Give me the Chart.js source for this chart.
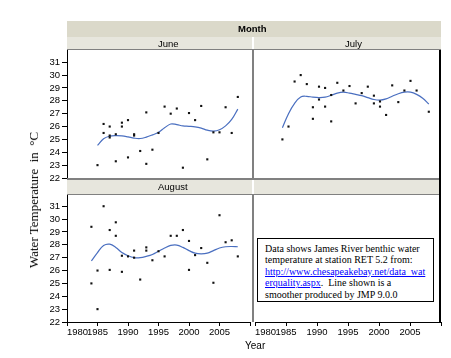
<!DOCTYPE html>
<html>
<head>
<meta charset="utf-8">
<script src="https://cdn.jsdelivr.net/npm/chart.js@4/dist/chart.umd.min.js"></script>
<style>
  html, body { margin: 0; padding: 0; background: #fff; }
  #wrap { position: relative; width: 451px; height: 358px; overflow: hidden; font-family: "Liberation Sans", Arial, sans-serif; }
  canvas { position: absolute; }
  .band { position: absolute; background: #dbd9ca; }
  .strip { position: absolute; background: #e7e6dd; }
  .lbl { position: absolute; font-size: 9.5px; color: #000; white-space: nowrap; line-height: 1; }
  .line { position: absolute; }
  #ytitle { position: absolute; left: 34px; top: 200px; transform: translate(-50%, -50%) rotate(-90deg);
    font-family: "Liberation Serif", "Times New Roman", serif; font-size: 13px; white-space: pre; }
  #note { position: absolute; left: 257px; top: 238px; width: 177px; height: 64px; border: 1px solid #000;
    box-sizing: border-box; background: #fff; padding: 4px 0 0 7px;
    font-family: "Liberation Serif", "Times New Roman", serif; font-size: 10px; line-height: 11.4px; white-space: nowrap; }
  #note a { color: #0000ff; text-decoration: underline; }
</style>
</head>
<body>
<div id="wrap">
  <canvas id="june" width="254" height="150" style="left:0;top:40px"></canvas>
  <canvas id="july" width="197" height="150" style="left:254px;top:40px"></canvas>
  <canvas id="august" width="254" height="174" style="left:0;top:184px"></canvas>
  <canvas id="blank" width="197" height="174" style="left:254px;top:184px"></canvas>

  <div class="band" style="left:67px;top:21px;width:374px;height:16px"></div>
  <div class="lbl" style="left:238px;top:24px;font-weight:bold">Month</div>
  <div class="strip" style="left:67px;top:37px;width:185px;height:13px"></div>
  <div class="strip" style="left:254px;top:37px;width:187px;height:13px"></div>
  <div class="lbl" style="left:158px;top:39px">June</div>
  <div class="lbl" style="left:345px;top:39px">July</div>
  <div class="strip" style="left:67px;top:180px;width:185px;height:14px"></div>
  <div class="strip" style="left:254px;top:180px;width:187px;height:14px"></div>
  <div class="lbl" style="left:158px;top:182px">August</div>

  <!-- panel frame -->
  <div class="line" style="left:67px;top:49px;width:374px;height:1px;background:#808080"></div>
  <div class="line" style="left:67px;top:178px;width:374px;height:2px;background:#808080"></div>
  <div class="line" style="left:67px;top:194px;width:374px;height:1px;background:#808080"></div>
  <div class="line" style="left:252px;top:50px;width:2px;height:128px;background:#808080"></div>
  <div class="line" style="left:252px;top:194px;width:2px;height:128px;background:#808080"></div>
  <div class="line" style="left:439px;top:50px;width:2px;height:273px;background:#000"></div>

  <div id="ytitle">Water Temperature  in  °C</div>
  <div class="lbl" style="left:245px;top:341px;font-size:10px">Year</div>

  <div id="note">Data shows James River benthic water<br>temperature at station RET 5.2 from:<br><a href="#">http://www.chesapeakebay.net/data_wat<br>erquality.aspx</a>.&nbsp; Line shown is a<br>smoother produced by JMP 9.0.0</div>
</div>

<script>
  // yearly benthic temperatures
  const juneYears = [1985, 1986, 1986, 1987, 1987, 1987, 1988, 1988, 1989, 1989, 1990, 1990, 1991, 1991, 1992, 1993,
    1993, 1994, 1995, 1996, 1997, 1998, 1999, 2000, 2001, 2002, 2003, 2004, 2005, 2006, 2007, 2008];
  const juneTemps = [23.0, 26.2, 25.5, 26.0, 25.3, 25.15, 23.3, 25.4, 26.3, 26.0, 26.5, 23.6, 25.4, 25.3, 24.1, 27.1,
    23.1, 24.2, 25.5, 27.55, 27.0, 27.4, 22.8, 27.05, 26.5, 27.6, 23.45, 25.55, 25.55, 27.5, 25.5, 28.3];

  const julyYears = [1984, 1985, 1986, 1987, 1988, 1989, 1989, 1990, 1990, 1991, 1991, 1992, 1992, 1993, 1994, 1995,
    1996, 1997, 1998, 1999, 1999, 2000, 2000, 2001, 2002, 2003, 2004, 2005, 2006, 2008];
  const julyTemps = [25.0, 26.0, 29.5, 30.0, 29.3, 27.5, 26.6, 29.1, 28.1, 29.0, 27.55, 28.45, 26.4, 29.4, 28.8, 29.15,
    27.8, 28.6, 29.1, 28.4, 27.8, 27.95, 27.55, 26.9, 29.2, 27.9, 28.8, 29.55, 28.8, 27.15];

  const augYears = [1984, 1984, 1985, 1985, 1986, 1987, 1987, 1988, 1988, 1989, 1989, 1990, 1991, 1991, 1992, 1993,
    1993, 1994, 1995, 1996, 1997, 1998, 1999, 2000, 2000, 2001, 2002, 2003, 2004, 2005, 2006, 2007, 2008];
  const augTemps = [29.4, 25.0, 26.0, 23.0, 31.0, 29.15, 26.05, 29.75, 28.7, 27.15, 25.9, 27.1, 27.55, 27.0, 25.3, 27.8,
    27.55, 26.8, 27.5, 27.1, 28.7, 28.7, 29.15, 28.3, 26.05, 27.2, 27.75, 26.6, 25.05, 30.3, 28.2, 28.35, 27.1];

  // JMP smoother, sampled once a year
  const juneSmoothYears = [1985, 1986, 1987, 1988, 1989, 1990, 1991, 1992, 1993, 1994, 1995, 1996, 1997, 1998, 1999,
    2000, 2001, 2002, 2003, 2004, 2005, 2006, 2007, 2008];
  const juneSmooth = [24.53, 25.05, 25.25, 25.3, 25.28, 25.2, 25.1, 25.07, 25.18, 25.35, 25.55, 25.9, 26.2, 26.15,
    26.05, 26.02, 25.98, 25.88, 25.72, 25.65, 25.75, 26.05, 26.55, 27.35];

  const smoothYears = [1984, 1985, 1986, 1987, 1988, 1989, 1990, 1991, 1992, 1993, 1994, 1995, 1996, 1997, 1998, 1999,
    2000, 2001, 2002, 2003, 2004, 2005, 2006, 2007, 2008];
  const julySmooth = [25.9, 27.0, 27.8, 28.3, 28.35, 28.28, 28.25, 28.28, 28.43, 28.6, 28.67, 28.6, 28.5, 28.4, 28.25,
    28.1, 28.05, 28.15, 28.35, 28.55, 28.67, 28.67, 28.5, 28.2, 27.75];
  const augSmooth = [26.75, 27.4, 27.95, 28.05, 27.8, 27.4, 27.15, 27.0, 27.0, 27.1, 27.25, 27.5, 27.75, 27.95, 27.98,
    27.8, 27.55, 27.35, 27.3, 27.35, 27.55, 27.75, 27.85, 27.87, 27.85];

  const yTicks = [22, 23, 24, 25, 26, 27, 28, 29, 30, 31];
  const xTicks = [1980, 1985, 1990, 1995, 2000, 2005, 2010];

  const DOT = "#111";
  const SMOOTH = "#4a6fc0";
  const TICK_FONT = { family: "'Liberation Sans', Arial, sans-serif", size: 9.5 };

  function pairs(xs, ys) {
    return xs.map((x, i) => ({ x: x, y: ys[i] }));
  }

  function yScale(show) {
    return {
      display: show,
      min: 22,
      max: 31.95,
      afterBuildTicks: (s) => { s.ticks = yTicks.map((v) => ({ value: v })); },
      afterFit: (s) => { if (show) s.width = 67; },
      grid: { drawOnChartArea: false, drawTicks: true, tickLength: 5, color: "#000" },
      border: { color: "#000", width: 1 },
      ticks: { color: "#000", font: TICK_FONT, padding: 2, autoSkip: false },
    };
  }

  function xScale(show) {
    return {
      type: "linear",
      display: show,
      min: 1980,
      max: 2010,
      afterBuildTicks: (s) => { s.ticks = xTicks.map((v) => ({ value: v })); },
      afterFit: (s) => { if (show) s.height = 20; },
      grid: { drawOnChartArea: false, drawTicks: true, tickLength: 4, color: "#000" },
      border: { color: "#000", width: 1 },
      ticks: {
        color: "#000", font: TICK_FONT, padding: 1, align: "inner",
        autoSkip: false, maxRotation: 0,
        callback: (v) => (v === 2010 ? "" : String(v)),
      },
    };
  }

  function panel(id, pts, smooth, opts) {
    const datasets = [];
    if (pts) {
      datasets.push({
        data: pts, showLine: false, pointStyle: "rect", pointRadius: 1.5,
        backgroundColor: DOT, borderWidth: 0,
      });
    }
    if (smooth) {
      datasets.push({
        data: smooth, borderColor: SMOOTH, borderWidth: 1.2, pointRadius: 0,
        tension: 0.4, fill: false,
      });
    }
    return new Chart(document.getElementById(id), {
      type: "line",
      data: { datasets: datasets },
      options: {
        responsive: false,
        animation: false,
        events: [],
        layout: { padding: opts.padding },
        plugins: { legend: { display: false }, tooltip: { enabled: false } },
        scales: { x: xScale(opts.showX), y: yScale(opts.showY) },
      },
    });
  }

  panel("june", pairs(juneYears, juneTemps), pairs(juneSmoothYears, juneSmooth),
    { showX: false, showY: true, padding: { top: 10, left: 0, right: 1, bottom: 12 } });
  panel("july", pairs(julyYears, julyTemps), pairs(smoothYears, julySmooth),
    { showX: false, showY: false, padding: { top: 10, left: 0, right: 10, bottom: 12 } });
  panel("august", pairs(augYears, augTemps), pairs(smoothYears, augSmooth),
    { showX: true, showY: true, padding: { top: 10, left: 0, right: 1, bottom: 16 } });
  panel("blank", null, null,
    { showX: true, showY: false, padding: { top: 10, left: 0, right: 10, bottom: 16 } });
</script>
</body>
</html>
